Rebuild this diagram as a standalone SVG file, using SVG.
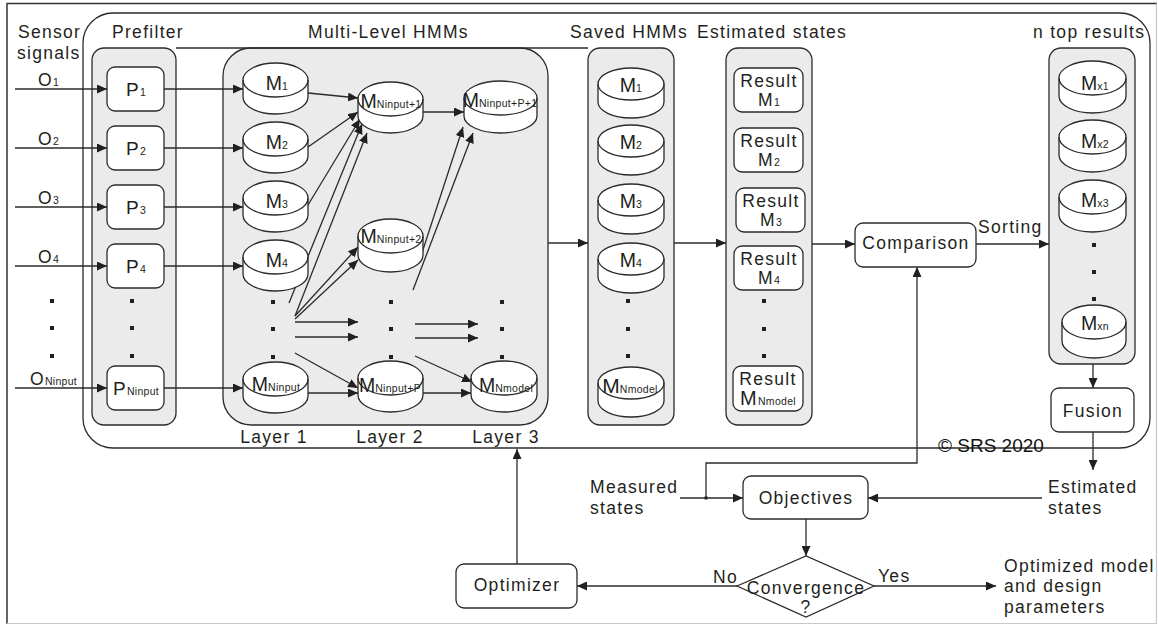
<svg xmlns="http://www.w3.org/2000/svg" width="1158" height="626" viewBox="0 0 1158 626">
  <style>
    .t { font-family: "Liberation Sans", Arial, Helvetica, sans-serif; font-size: 17.5px; letter-spacing: 1.3px; fill: #231f20; }
    .m { font-family: "Liberation Sans", Arial, Helvetica, sans-serif; font-size: 19.5px; fill: #231f20; }
    .s { font-size: 10.5px; letter-spacing: 0.3px; }
    .ln { fill: none; stroke: #2b2b2b; stroke-width: 1.3; }
    .arr { fill: none; stroke: #2b2b2b; stroke-width: 1.3; marker-end: url(#ah); }
    .box { fill: #ffffff; stroke: #2b2b2b; stroke-width: 1.3; }
    .grp { fill: #ebebeb; stroke: #2b2b2b; stroke-width: 1.3; }
    .cyl { fill: #ffffff; stroke: #2b2b2b; stroke-width: 1.3; }
    .dot { fill: #231f20; }
  </style>
  <defs>
    <marker id="ah" markerUnits="userSpaceOnUse" markerWidth="11" markerHeight="9" refX="10" refY="4.5" orient="auto">
      <path d="M0,0 L10,4.5 L0,9 Z" fill="#231f20"/>
    </marker>
  </defs>

  <!-- page frame -->
  <rect x="0" y="0" width="1158" height="626" fill="#ffffff"/>
  <path d="M7,624 V3.5 H1157" fill="none" stroke="#333" stroke-width="1.5"/>
  <path d="M1156.5,3.5 V623.5 H7" fill="none" stroke="#c8c8c8" stroke-width="1.2"/>

  <!-- main system boundary -->
  <rect id="system" x="83" y="13" width="1067" height="435" rx="30" class="ln"/>

  <!-- column containers -->
  <g id="prefilter">
    <rect x="92" y="48" width="84" height="377" rx="12" class="grp"/>
    <text class="t" x="112" y="38">Prefilter</text>
  </g>
  <g id="multilevel">
    <rect x="223" y="48" width="325" height="377" rx="28" class="grp"/>
    <text class="t" x="308" y="38">Multi-Level HMMs</text>
  </g>
  <g id="saved">
    <rect x="588" y="48" width="86" height="377" rx="12" class="grp"/>
    <text class="t" x="570" y="38">Saved HMMs</text>
  </g>
  <g id="estimated">
    <rect x="726" y="48" width="86" height="377" rx="12" class="grp"/>
    <text class="t" x="697" y="38">Estimated states</text>
  </g>
  <g id="ntop">
    <rect x="1049" y="48" width="86" height="316" rx="12" class="grp"/>
    <text class="t" x="1033" y="38">n top results</text>
  </g>

  <!-- connectors -->
  <g id="connectors">
    <line x1="176" y1="48" x2="588" y2="48" class="ln"/>
    <!-- sensor inputs -->
    <line x1="15" y1="89" x2="107" y2="89" class="arr"/>
    <line x1="15" y1="148" x2="107" y2="148" class="arr"/>
    <line x1="15" y1="207" x2="107" y2="207" class="arr"/>
    <line x1="15" y1="266" x2="107" y2="266" class="arr"/>
    <line x1="15" y1="388" x2="107" y2="388" class="arr"/>
    <!-- prefilter to layer 1 -->
    <line x1="164" y1="89" x2="243" y2="89" class="arr"/>
    <line x1="164" y1="148" x2="243" y2="148" class="arr"/>
    <line x1="164" y1="207" x2="243" y2="207" class="arr"/>
    <line x1="164" y1="266" x2="243" y2="266" class="arr"/>
    <line x1="164" y1="388" x2="243" y2="388" class="arr"/>
    <!-- layer 1 to layer 2 -->
    <line x1="308" y1="93" x2="358" y2="98" class="arr"/>
    <line x1="308" y1="147" x2="358" y2="112" class="arr"/>
    <line x1="308" y1="205" x2="360" y2="119" class="arr"/>
    <line x1="289" y1="303" x2="362" y2="124" class="arr"/>
    <line x1="295" y1="316" x2="367" y2="133" class="arr"/>
    <line x1="295" y1="316" x2="358" y2="247" class="arr"/>
    <line x1="295" y1="319" x2="358" y2="260" class="arr"/>
    <line x1="295" y1="322" x2="358" y2="322" class="arr"/>
    <line x1="295" y1="337" x2="358" y2="337" class="arr"/>
    <line x1="295" y1="353" x2="358" y2="388" class="arr"/>
    <line x1="308" y1="393" x2="358" y2="393" class="arr"/>
    <!-- layer 2 to layer 3 -->
    <line x1="423" y1="112" x2="464" y2="112" class="arr"/>
    <line x1="419" y1="262" x2="463" y2="127" class="arr"/>
    <line x1="413" y1="290" x2="473" y2="133" class="arr"/>
    <line x1="415" y1="324" x2="478" y2="324" class="arr"/>
    <line x1="415" y1="338" x2="478" y2="338" class="arr"/>
    <line x1="415" y1="356" x2="472" y2="382" class="arr"/>
    <line x1="423" y1="393" x2="471" y2="393" class="arr"/>
    <!-- column flow -->
    <line x1="548" y1="243" x2="588" y2="243" class="arr"/>
    <line x1="674" y1="243" x2="726" y2="243" class="arr"/>
    <line x1="812" y1="244" x2="855" y2="244" class="arr"/>
    <line x1="976" y1="244" x2="1049" y2="244" class="arr"/>
    <line x1="1093" y1="364" x2="1093" y2="388" class="arr"/>
    <line x1="1093" y1="432" x2="1093" y2="470" class="arr"/>
    <!-- optimisation loop -->
    <line x1="680" y1="498" x2="743" y2="498" class="arr"/>
    <polyline points="706,498 706,463 917,463 917,267" class="arr"/>
    <rect x="704.5" y="496.5" width="3" height="3" class="dot"/>
    <line x1="1042" y1="498" x2="868" y2="498" class="arr"/>
    <line x1="806" y1="519" x2="806" y2="556" class="arr"/>
    <line x1="737" y1="586" x2="577" y2="586" class="arr"/>
    <line x1="874" y1="586" x2="996" y2="586" class="arr"/>
    <line x1="517" y1="564" x2="517" y2="449" class="arr"/>
  </g>

  <!-- sensor signals -->
  <g id="signals">
    <text class="t" x="18" y="38">Sensor</text>
    <text class="t" x="17" y="59">signals</text>
    <text class="t" x="38" y="86">O<tspan class="s">1</tspan></text>
    <text class="t" x="38" y="145">O<tspan class="s">2</tspan></text>
    <text class="t" x="38" y="204">O<tspan class="s">3</tspan></text>
    <text class="t" x="38" y="263">O<tspan class="s">4</tspan></text>
    <text class="t" x="30" y="385">O<tspan class="s">Ninput</tspan></text>
    <rect x="50" y="299" width="4" height="4" class="dot"/>
    <rect x="50" y="326" width="4" height="4" class="dot"/>
    <rect x="50" y="354" width="4" height="4" class="dot"/>
  </g>

  <!-- prefilter nodes -->
  <g id="P1"><rect x="107" y="67" width="57" height="44" rx="8" class="box"/><text class="t" x="136" y="96" text-anchor="middle" style="font-size:19px">P<tspan class="s">1</tspan></text></g>
  <g id="P2"><rect x="107" y="126" width="57" height="44" rx="8" class="box"/><text class="t" x="136" y="155" text-anchor="middle" style="font-size:19px">P<tspan class="s">2</tspan></text></g>
  <g id="P3"><rect x="107" y="185" width="57" height="44" rx="8" class="box"/><text class="t" x="136" y="214" text-anchor="middle" style="font-size:19px">P<tspan class="s">3</tspan></text></g>
  <g id="P4"><rect x="107" y="244" width="57" height="44" rx="8" class="box"/><text class="t" x="136" y="273" text-anchor="middle" style="font-size:19px">P<tspan class="s">4</tspan></text></g>
  <g id="PN"><rect x="107" y="366" width="57" height="44" rx="8" class="box"/><text class="t" x="136" y="395" text-anchor="middle" style="font-size:19px">P<tspan class="s">Ninput</tspan></text></g>
  <g id="prefilter-dots">
    <rect x="130" y="299" width="4" height="4" class="dot"/>
    <rect x="130" y="326" width="4" height="4" class="dot"/>
    <rect x="130" y="354" width="4" height="4" class="dot"/>
  </g>

  <!-- layer 1 -->
  <g id="L1-M1"><path class="cyl" d="M243,80 A32.5,17 0 0 1 308,80 V97 A32.5,17 0 0 1 243,97 Z"/><path class="ln" d="M243,80 A32.5,17 0 0 0 308,80"/><text class="m" x="277" y="90" text-anchor="middle">M<tspan class="s">1</tspan></text></g>
  <g id="L1-M2"><path class="cyl" d="M243,139 A32.5,17 0 0 1 308,139 V156 A32.5,17 0 0 1 243,156 Z"/><path class="ln" d="M243,139 A32.5,17 0 0 0 308,139"/><text class="m" x="277" y="149" text-anchor="middle">M<tspan class="s">2</tspan></text></g>
  <g id="L1-M3"><path class="cyl" d="M243,198 A32.5,17 0 0 1 308,198 V215 A32.5,17 0 0 1 243,215 Z"/><path class="ln" d="M243,198 A32.5,17 0 0 0 308,198"/><text class="m" x="277" y="208" text-anchor="middle">M<tspan class="s">3</tspan></text></g>
  <g id="L1-M4"><path class="cyl" d="M243,257 A32.5,17 0 0 1 308,257 V274 A32.5,17 0 0 1 243,274 Z"/><path class="ln" d="M243,257 A32.5,17 0 0 0 308,257"/><text class="m" x="277" y="267" text-anchor="middle">M<tspan class="s">4</tspan></text></g>
  <g id="L1-MN"><path class="cyl" d="M243,379 A32.5,17 0 0 1 308,379 V396 A32.5,17 0 0 1 243,396 Z"/><path class="ln" d="M243,379 A32.5,17 0 0 0 308,379"/><text class="m" x="276" y="391" text-anchor="middle">M<tspan class="s">Ninput</tspan></text></g>

  <!-- layer 2 -->
  <g id="L2-M1"><path class="cyl" d="M358,99 A32.5,17 0 0 1 423,99 V116 A32.5,17 0 0 1 358,116 Z"/><path class="ln" d="M358,99 A32.5,17 0 0 0 423,99"/><text class="m" x="391" y="108" text-anchor="middle">M<tspan class="s">Ninput+1</tspan></text></g>
  <g id="L2-M2"><path class="cyl" d="M358,236 A32.5,17 0 0 1 423,236 V255 A32.5,17 0 0 1 358,255 Z"/><path class="ln" d="M358,236 A32.5,17 0 0 0 423,236"/><text class="m" x="391" y="243" text-anchor="middle">M<tspan class="s">Ninput+2</tspan></text></g>
  <g id="L2-MP"><path class="cyl" d="M358,378 A32.5,17 0 0 1 423,378 V395 A32.5,17 0 0 1 358,395 Z"/><path class="ln" d="M358,378 A32.5,17 0 0 0 423,378"/><text class="m" x="390" y="392" text-anchor="middle">M<tspan class="s">Ninput+P</tspan></text></g>

  <!-- layer 3 -->
  <g id="L3-M1"><path class="cyl" d="M464,98 A36.5,17 0 0 1 537,98 V116 A36.5,17 0 0 1 464,116 Z"/><path class="ln" d="M464,98 A36.5,17 0 0 0 537,98"/><text class="m" x="500" y="107" text-anchor="middle">M<tspan class="s">Ninput+P+1</tspan></text></g>
  <g id="L3-MN"><path class="cyl" d="M471,378 A33,17 0 0 1 537,378 V395 A33,17 0 0 1 471,395 Z"/><path class="ln" d="M471,378 A33,17 0 0 0 537,378"/><text class="m" x="506" y="392" text-anchor="middle">M<tspan class="s">Nmodel</tspan></text></g>

  <g id="layer-dots">
    <rect x="271" y="300" width="4" height="4" class="dot"/>
    <rect x="271" y="327" width="4" height="4" class="dot"/>
    <rect x="271" y="355" width="4" height="4" class="dot"/>
    <rect x="389" y="300" width="4" height="4" class="dot"/>
    <rect x="389" y="327" width="4" height="4" class="dot"/>
    <rect x="389" y="355" width="4" height="4" class="dot"/>
    <rect x="500" y="300" width="4" height="4" class="dot"/>
    <rect x="500" y="327" width="4" height="4" class="dot"/>
    <rect x="500" y="355" width="4" height="4" class="dot"/>
  </g>
  <g id="layer-labels">
    <text class="t" x="274" y="443" text-anchor="middle">Layer 1</text>
    <text class="t" x="390" y="443" text-anchor="middle">Layer 2</text>
    <text class="t" x="506" y="443" text-anchor="middle">Layer 3</text>
  </g>

  <!-- saved HMMs -->
  <g id="S-M1"><path class="cyl" d="M598,84 A33,16 0 0 1 664,84 V102 A33,16 0 0 1 598,102 Z"/><path class="ln" d="M598,84 A33,16 0 0 0 664,84"/><text class="m" x="631" y="92" text-anchor="middle">M<tspan class="s">1</tspan></text></g>
  <g id="S-M2"><path class="cyl" d="M598,141 A33,16 0 0 1 664,141 V159 A33,16 0 0 1 598,159 Z"/><path class="ln" d="M598,141 A33,16 0 0 0 664,141"/><text class="m" x="631" y="149" text-anchor="middle">M<tspan class="s">2</tspan></text></g>
  <g id="S-M3"><path class="cyl" d="M598,200 A33,16 0 0 1 664,200 V218 A33,16 0 0 1 598,218 Z"/><path class="ln" d="M598,200 A33,16 0 0 0 664,200"/><text class="m" x="631" y="208" text-anchor="middle">M<tspan class="s">3</tspan></text></g>
  <g id="S-M4"><path class="cyl" d="M598,259 A33,16 0 0 1 664,259 V277 A33,16 0 0 1 598,277 Z"/><path class="ln" d="M598,259 A33,16 0 0 0 664,259"/><text class="m" x="631" y="267" text-anchor="middle">M<tspan class="s">4</tspan></text></g>
  <g id="S-MN"><path class="cyl" d="M598,383 A33,16 0 0 1 664,383 V401 A33,16 0 0 1 598,401 Z"/><path class="ln" d="M598,383 A33,16 0 0 0 664,383"/><text class="m" x="630" y="393" text-anchor="middle" style="font-size:21px">M<tspan class="s">Nmodel</tspan></text></g>
  <g id="saved-dots">
    <rect x="626" y="299" width="4" height="4" class="dot"/>
    <rect x="626" y="327" width="4" height="4" class="dot"/>
    <rect x="626" y="354" width="4" height="4" class="dot"/>
  </g>

  <!-- estimated states -->
  <g id="R1"><rect x="734" y="68" width="69" height="44" rx="8" class="box"/><text class="t" x="769" y="87" text-anchor="middle">Result</text><text class="t" x="769" y="106" text-anchor="middle">M<tspan class="s">1</tspan></text></g>
  <g id="R2"><rect x="734" y="128" width="69" height="44" rx="8" class="box"/><text class="t" x="769" y="147" text-anchor="middle">Result</text><text class="t" x="769" y="166" text-anchor="middle">M<tspan class="s">2</tspan></text></g>
  <g id="R3"><rect x="736" y="188" width="69" height="44" rx="8" class="box"/><text class="t" x="771" y="207" text-anchor="middle">Result</text><text class="t" x="771" y="226" text-anchor="middle">M<tspan class="s">3</tspan></text></g>
  <g id="R4"><rect x="734" y="246" width="69" height="44" rx="8" class="box"/><text class="t" x="769" y="265" text-anchor="middle">Result</text><text class="t" x="769" y="284" text-anchor="middle">M<tspan class="s">4</tspan></text></g>
  <g id="RN"><rect x="733" y="366" width="70" height="45" rx="8" class="box"/><text class="t" x="768" y="385" text-anchor="middle">Result</text><text class="t" x="768" y="405" text-anchor="middle" style="font-size:20px">M<tspan class="s">Nmodel</tspan></text></g>
  <g id="result-dots">
    <rect x="762" y="299" width="4" height="4" class="dot"/>
    <rect x="762" y="327" width="4" height="4" class="dot"/>
    <rect x="762" y="354" width="4" height="4" class="dot"/>
  </g>

  <!-- comparison -->
  <g id="comparison"><rect x="855" y="223" width="121" height="44" rx="8" class="box"/><text class="t" x="916" y="249" text-anchor="middle">Comparison</text></g>
  <text class="t" x="978" y="233">Sorting</text>

  <!-- n top results -->
  <g id="X1"><path class="cyl" d="M1059,78 A33.5,17 0 0 1 1126,78 V96 A33.5,17 0 0 1 1059,96 Z"/><path class="ln" d="M1059,78 A33.5,17 0 0 0 1126,78"/><text class="m" x="1095" y="90" text-anchor="middle">M<tspan class="s">x1</tspan></text></g>
  <g id="X2"><path class="cyl" d="M1059,137 A33.5,17 0 0 1 1126,137 V155 A33.5,17 0 0 1 1059,155 Z"/><path class="ln" d="M1059,137 A33.5,17 0 0 0 1126,137"/><text class="m" x="1095" y="148" text-anchor="middle">M<tspan class="s">x2</tspan></text></g>
  <g id="X3"><path class="cyl" d="M1059,197 A33.5,17 0 0 1 1126,197 V215 A33.5,17 0 0 1 1059,215 Z"/><path class="ln" d="M1059,197 A33.5,17 0 0 0 1126,197"/><text class="m" x="1095" y="207" text-anchor="middle">M<tspan class="s">x3</tspan></text></g>
  <g id="XN"><path class="cyl" d="M1062,322 A32,17 0 0 1 1126,322 V341 A32,17 0 0 1 1062,341 Z"/><path class="ln" d="M1062,322 A32,17 0 0 0 1126,322"/><text class="m" x="1095" y="330" text-anchor="middle">M<tspan class="s">xn</tspan></text></g>
  <g id="ntop-dots">
    <rect x="1092" y="243" width="4" height="4" class="dot"/>
    <rect x="1092" y="270" width="4" height="4" class="dot"/>
    <rect x="1092" y="297" width="4" height="4" class="dot"/>
  </g>

  <!-- fusion -->
  <g id="fusion"><rect x="1051" y="388" width="83" height="44" rx="8" class="box"/><text class="t" x="1093" y="417" text-anchor="middle">Fusion</text></g>

  <text x="938" y="452" style="font-family:'Liberation Sans',Arial,sans-serif;font-size:19px;fill:#111">© SRS 2020</text>

  <!-- optimisation loop -->
  <g id="measured"><text class="t" x="590" y="493">Measured</text><text class="t" x="590" y="514">states</text></g>
  <g id="estimated-out"><text class="t" x="1048" y="493">Estimated</text><text class="t" x="1048" y="514">states</text></g>
  <g id="objectives"><rect x="743" y="476" width="125" height="43" rx="8" class="box"/><text class="t" x="806" y="504" text-anchor="middle">Objectives</text></g>
  <g id="convergence">
    <polygon points="737,586 806,556 874,586 806,617" fill="#ffffff" stroke="#2b2b2b" stroke-width="1.3"/>
    <text class="t" x="806" y="594" text-anchor="middle">Convergence</text>
    <text class="t" x="806" y="613" text-anchor="middle">?</text>
  </g>
  <g id="optimizer"><rect x="456" y="564" width="121" height="44" rx="8" class="box"/><text class="t" x="517" y="591" text-anchor="middle">Optimizer</text></g>
  <text class="t" x="713" y="583">No</text>
  <text class="t" x="878" y="582">Yes</text>
  <g id="output"><text class="t" x="1004" y="572">Optimized model</text><text class="t" x="1004" y="592">and design</text><text class="t" x="1004" y="613">parameters</text></g>
</svg>
